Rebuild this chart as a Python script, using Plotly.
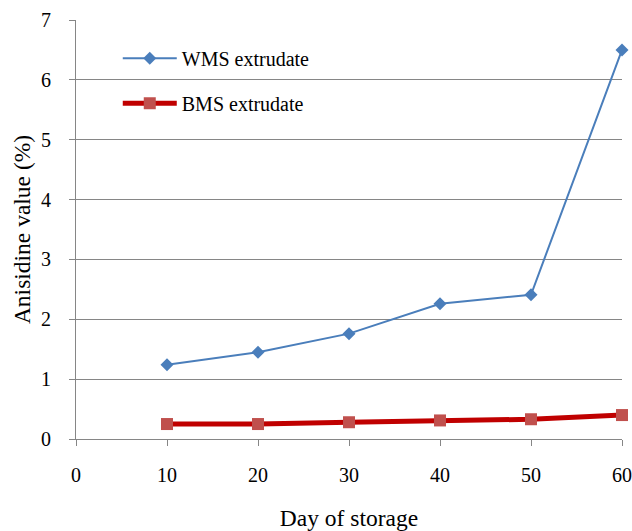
import plotly.graph_objects as go

days = [10, 20, 30, 40, 50, 60]
wms = [1.24, 1.45, 1.76, 2.26, 2.41, 6.50]
bms = [0.25, 0.25, 0.28, 0.31, 0.33, 0.40]
x_ticks = [0, 10, 20, 30, 40, 50, 60]
y_ticks = [0, 1, 2, 3, 4, 5, 6, 7]

FONT = "Liberation Serif, Times New Roman, serif"
GRID = "#868686"

fig = go.Figure()
fig.add_trace(go.Scatter(
    x=days, y=wms, name="WMS extrudate", mode="lines+markers",
    line=dict(color="#4A7EBB", width=2),
    marker=dict(symbol="diamond", size=10, color="#4A7EBB"),
    legendgroup="a", cliponaxis=False,
))
fig.add_trace(go.Scatter(
    x=days, y=bms, name="BMS extrudate", mode="lines+markers",
    line=dict(color="#C00000", width=5),
    marker=dict(symbol="square", size=12, color="#C0504D"),
    legendgroup="b", cliponaxis=False,
))

fig.update_layout(
    width=632, height=531,
    margin=dict(l=76, r=10, t=20, b=92, autoexpand=False),
    paper_bgcolor="white", plot_bgcolor="white",
    font=dict(family=FONT, size=20, color="black"),
    showlegend=True,
    legend=dict(
        x=0.0765, y=0.955, xanchor="left", yanchor="top",
        bgcolor="rgba(0,0,0,0)", font=dict(size=20, family=FONT),
        traceorder="grouped", tracegroupgap=16, itemwidth=54,
    ),
    xaxis=dict(
        range=[0, 60], tickvals=x_ticks, ticktext=[str(v) for v in x_ticks],
        showgrid=False, zeroline=False, showline=True, linecolor=GRID, linewidth=1,
        ticks="outside", ticklen=6, tickcolor=GRID, ticklabelstandoff=12,
        tickfont=dict(size=20),
        title=dict(text="Day of storage", font=dict(size=23.5), standoff=25),
        automargin=False,
    ),
    yaxis=dict(
        range=[0, 7], tickvals=y_ticks, ticktext=[str(v) for v in y_ticks],
        showgrid=True, gridcolor=GRID, gridwidth=1, zeroline=False,
        showline=True, linecolor=GRID, linewidth=1,
        ticks="outside", ticklen=6, tickcolor=GRID, ticklabelstandoff=14,
        tickfont=dict(size=20),
        title=dict(text="Anisidine value (%)", font=dict(size=23.5), standoff=3),
        automargin=False,
    ),
)

fig.write_html("out.html")
